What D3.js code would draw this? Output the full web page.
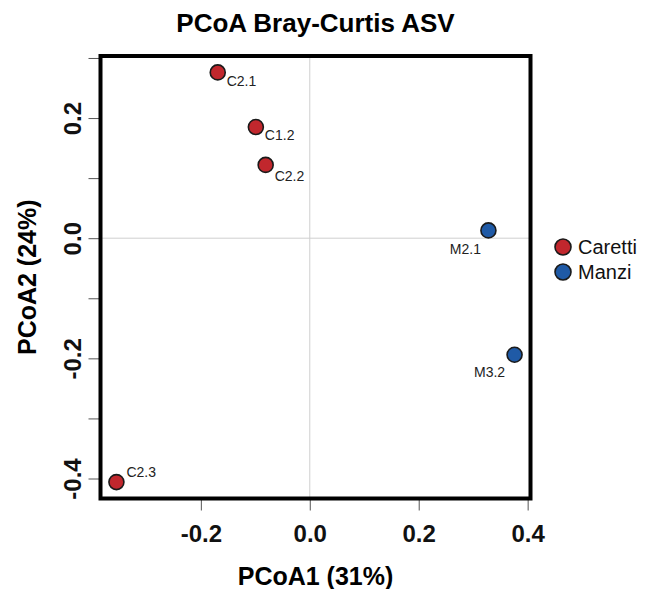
<!DOCTYPE html>
<html>
<head>
<meta charset="utf-8">
<script src="https://cdn.jsdelivr.net/npm/d3@7"></script>
<style>
  html, body { margin: 0; padding: 0; background: #fff; }
  svg { display: block; font-family: "Liberation Sans", Arial, Helvetica, sans-serif; }
</style>
</head>
<body>
<svg></svg>
<script>
const width = 646;
const height = 589;

// Sample coordinates
const samples = ["C2.1", "C1.2", "C2.2", "M2.1", "M3.2", "C2.3"];
const groups  = ["Caretti", "Caretti", "Caretti", "Manzi", "Manzi", "Caretti"];
const pcoa1   = [-0.169, -0.099, -0.081, 0.328, 0.376, -0.355];
const pcoa2   = [0.276, 0.185, 0.122, 0.013, -0.194, -0.406];

const legendGroups = ["Caretti", "Manzi"];
const xTicks = [-0.2, 0.0, 0.2, 0.4];
const yTicks = [-0.4, -0.3, -0.2, -0.1, 0.0, 0.1, 0.2, 0.3];
const yTickLabels = [-0.4, -0.2, 0.0, 0.2];

// Label placement around each point (dx, dy in px, text anchor)
const labelPlace = {
    "C2.1": [9, 14, "start"],
    "C1.2": [9, 13, "start"],
    "C2.2": [9, 16, "start"],
    "M2.1": [-23, 24, "middle"],
    "M3.2": [-25, 22, "middle"],
    "C2.3": [10, -5, "start"]
};

const colour = d3.scaleOrdinal()
    .domain(legendGroups)
    .range(["#c1272d", "#1f5aa6"]);

const svg = d3.select("svg")
    .attr("width", width)
    .attr("height", height)
    .attr("viewBox", `0 0 ${width} ${height}`);

const plot = { left: 100.5, right: 530.5, top: 56, bottom: 498.5 };

// R-style 4% padding on the data range
function padded(values) {
    const [lo, hi] = d3.extent(values);
    const pad = (hi - lo) * 0.04;
    return [lo - pad, hi + pad];
}

// plain hyphen minus like R
const fmt = d => d3.format(".1f")(d).replace("\u2212", "-");

const x = d3.scaleLinear().domain(padded(pcoa1)).range([plot.left, plot.right]);
const y = d3.scaleLinear().domain(padded(pcoa2)).range([plot.bottom, plot.top]);

// Reference lines at zero
svg.append("line")
    .attr("x1", x(0)).attr("x2", x(0))
    .attr("y1", plot.top).attr("y2", plot.bottom)
    .attr("stroke", "#cfcfcf").attr("stroke-width", 1);
svg.append("line")
    .attr("x1", plot.left).attr("x2", plot.right)
    .attr("y1", y(0)).attr("y2", y(0))
    .attr("stroke", "#cfcfcf").attr("stroke-width", 1);

// Axes (ticks only, the frame is drawn separately)
const xAxis = svg.append("g")
    .attr("transform", `translate(0,${plot.bottom})`)
    .call(d3.axisBottom(x).tickValues(xTicks).tickSize(12).tickPadding(14)
        .tickFormat(fmt));
xAxis.select(".domain").remove();
xAxis.selectAll(".tick line").attr("stroke", "#555").attr("stroke-width", 1);
xAxis.selectAll(".tick text")
    .attr("font-size", "24px").attr("font-weight", "bold").attr("fill", "#111")
    .attr("font-family", "Liberation Sans, Arial, sans-serif");

const yAxis = svg.append("g")
    .attr("transform", `translate(${plot.left},0)`)
    .call(d3.axisLeft(y).tickValues(yTicks).tickSize(12)
        .tickFormat(d => yTickLabels.some(v => Math.abs(v - d) < 1e-9) ? fmt(d) : ""));
yAxis.select(".domain").remove();
yAxis.selectAll(".tick line").attr("stroke", "#555").attr("stroke-width", 1);
yAxis.selectAll(".tick text")
    .attr("font-size", "24px").attr("font-weight", "bold").attr("fill", "#111")
    .attr("font-family", "Liberation Sans, Arial, sans-serif")
    .attr("x", null).attr("dy", null)
    .attr("text-anchor", "middle")
    .attr("transform", "translate(-20,0) rotate(-90)");

// Frame
svg.append("rect")
    .attr("x", plot.left).attr("y", plot.top)
    .attr("width", plot.right - plot.left)
    .attr("height", plot.bottom - plot.top)
    .attr("fill", "none").attr("stroke", "#000").attr("stroke-width", 4);

// Points
const pts = samples.map((s, i) => ({ name: s, group: groups[i], x: pcoa1[i], y: pcoa2[i] }));

svg.append("g").selectAll("circle")
    .data(pts).join("circle")
    .attr("cx", d => x(d.x)).attr("cy", d => y(d.y))
    .attr("r", 7.5)
    .attr("fill", d => colour(d.group))
    .attr("stroke", "#1a1a1a").attr("stroke-width", 1.6);

svg.append("g").selectAll("text")
    .data(pts).join("text")
    .attr("x", d => x(d.x) + labelPlace[d.name][0])
    .attr("y", d => y(d.y) + labelPlace[d.name][1])
    .attr("text-anchor", d => labelPlace[d.name][2])
    .attr("font-size", "14px").attr("fill", "#222")
    .text(d => d.name);

// Title and axis titles
svg.append("text")
    .attr("x", (plot.left + plot.right) / 2).attr("y", 32)
    .attr("text-anchor", "middle")
    .attr("font-size", "26px").attr("font-weight", "bold")
    .text("PCoA Bray-Curtis ASV");

svg.append("text")
    .attr("x", (plot.left + plot.right) / 2).attr("y", 585)
    .attr("text-anchor", "middle")
    .attr("font-size", "25px").attr("font-weight", "bold")
    .text("PCoA1 (31%)");

svg.append("text")
    .attr("transform", `translate(36,${(plot.top + plot.bottom) / 2}) rotate(-90)`)
    .attr("text-anchor", "middle")
    .attr("font-size", "25px").attr("font-weight", "bold")
    .text("PCoA2 (24%)");

// Legend
const legend = svg.append("g").selectAll("g")
    .data(legendGroups).join("g")
    .attr("transform", (d, i) => `translate(563,${247 + i * 25})`);
legend.append("circle")
    .attr("r", 8)
    .attr("fill", d => colour(d))
    .attr("stroke", "#1a1a1a").attr("stroke-width", 1.6);
legend.append("text")
    .attr("x", 15).attr("y", 7)
    .attr("font-size", "20px").attr("fill", "#111")
    .text(d => d);
</script>
</body>
</html>
